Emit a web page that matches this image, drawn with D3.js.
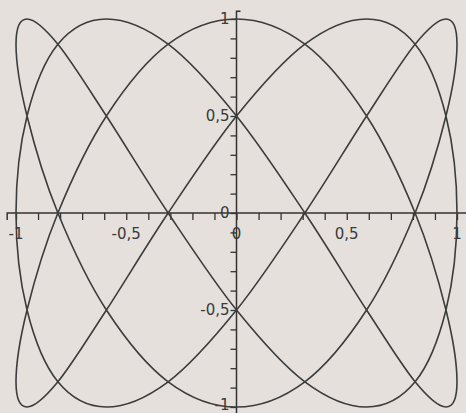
<!DOCTYPE html>
<html>
<head>
<meta charset="utf-8">
<script src="https://cdn.jsdelivr.net/npm/d3@7"></script>
<style>
  html, body { margin: 0; padding: 0; background: #e5e0db; }
  svg { display: block; }
  .lbl { font-family: "DejaVu Sans", sans-serif; font-size: 15px; fill: #3a3a3a; }
</style>
</head>
<body>
<svg id="chart" width="466" height="413"></svg>
<script>
// points along the curve, in drawing order
var curveX = [0, 0.31, 0.59, 0.81, 0.95, 1, 0.95, 0.81, 0.59, 0.31, 0, -0.31, -0.59, -0.81, -0.95, -1, -0.95, -0.81, -0.59, -0.31,
              0, 0.31, 0.59, 0.81, 0.95, 1, 0.95, 0.81, 0.59, 0.31, 0, -0.31, -0.59, -0.81, -0.95, -1, -0.95, -0.81, -0.59, -0.31,
              0, 0.31, 0.59, 0.81, 0.95, 1, 0.95, 0.81, 0.59, 0.31, 0, -0.31, -0.59, -0.81, -0.95, -1, -0.95, -0.81, -0.59, -0.31];
var curveY = [1, 0.87, 0.5, 0, -0.5, -0.87, -1, -0.87, -0.5, 0, 0.5, 0.87,
              1, 0.87, 0.5, 0, -0.5, -0.87, -1, -0.87, -0.5, 0, 0.5, 0.87,
              1, 0.87, 0.5, 0, -0.5, -0.87, -1, -0.87, -0.5, 0, 0.5, 0.87,
              1, 0.87, 0.5, 0, -0.5, -0.87, -1, -0.87, -0.5, 0, 0.5, 0.87,
              1, 0.87, 0.5, 0, -0.5, -0.87, -1, -0.87, -0.5, 0, 0.5, 0.87];

var minorTicks = [-1, -0.9, -0.8, -0.7, -0.6, -0.5, -0.4, -0.3, -0.2, -0.1, 0, 0.1, 0.2, 0.3, 0.4, 0.5, 0.6, 0.7, 0.8, 0.9, 1];
var xLabelValues = [-1, -0.5, 0, 0.5, 1];
var xLabels = ["-1", "-0,5", "0", "0,5", "1"];
var yLabelValues = [1, 0.5, 0, -0.5, -1];
var yLabels = ["1", "0,5", "0", "-0,5", "-1"];

var svg = d3.select("#chart");

var x = d3.scaleLinear().domain([-1, 1]).range([16, 457]);
var y = d3.scaleLinear().domain([-1, 1]).range([407, 19]);

var x0 = x(0), y0 = y(0);

// x axis : ticks hang below the line
var gx = svg.append("g").attr("transform", "translate(0," + y0 + ")");
gx.call(d3.axisBottom(x).tickValues(minorTicks).tickSize(7).tickFormat(""));
gx.select(".domain").remove();
gx.selectAll(".tick line").attr("stroke", "#333").attr("stroke-width", 1.3);
gx.append("path")
    .attr("d", "M" + x(-1.04) + ",7V0H466")
    .attr("fill", "none").attr("stroke", "#333").attr("stroke-width", 1.5);

gx.selectAll(".xlbl")
    .data(xLabelValues)
    .enter().append("text")
    .attr("class", "lbl")
    .attr("x", function(d) { return x(d); })
    .attr("y", 26)
    .attr("text-anchor", "middle")
    .text(function(d, i) { return xLabels[i]; });

// y axis : ticks on the left
var gy = svg.append("g").attr("transform", "translate(" + x0 + ",0)");
gy.call(d3.axisLeft(y).tickValues(minorTicks).tickSize(6).tickFormat(""));
gy.select(".domain").remove();
gy.selectAll(".tick line").attr("stroke", "#333").attr("stroke-width", 1.3);
gy.append("path")
    .attr("d", "M4," + y(1.04) + "H0V413")
    .attr("fill", "none").attr("stroke", "#333").attr("stroke-width", 1.5);

gy.selectAll(".ylbl")
    .data(yLabelValues)
    .enter().append("text")
    .attr("class", "lbl")
    .attr("x", -7)
    .attr("y", function(d) { return d === -1 ? y(d) - 2 : y(d); })
    .attr("dy", "0.36em")
    .attr("text-anchor", "end")
    .text(function(d, i) { return yLabels[i]; });

// the curve
var line = d3.line()
    .x(function(d) { return x(curveX[d]); })
    .y(function(d) { return y(curveY[d]); })
    .curve(d3.curveCatmullRomClosed.alpha(0));

svg.append("path")
    .datum(d3.range(curveX.length))
    .attr("d", line)
    .attr("fill", "none")
    .attr("stroke", "#3c3c3c")
    .attr("stroke-width", 1.6);
</script>
</body>
</html>
